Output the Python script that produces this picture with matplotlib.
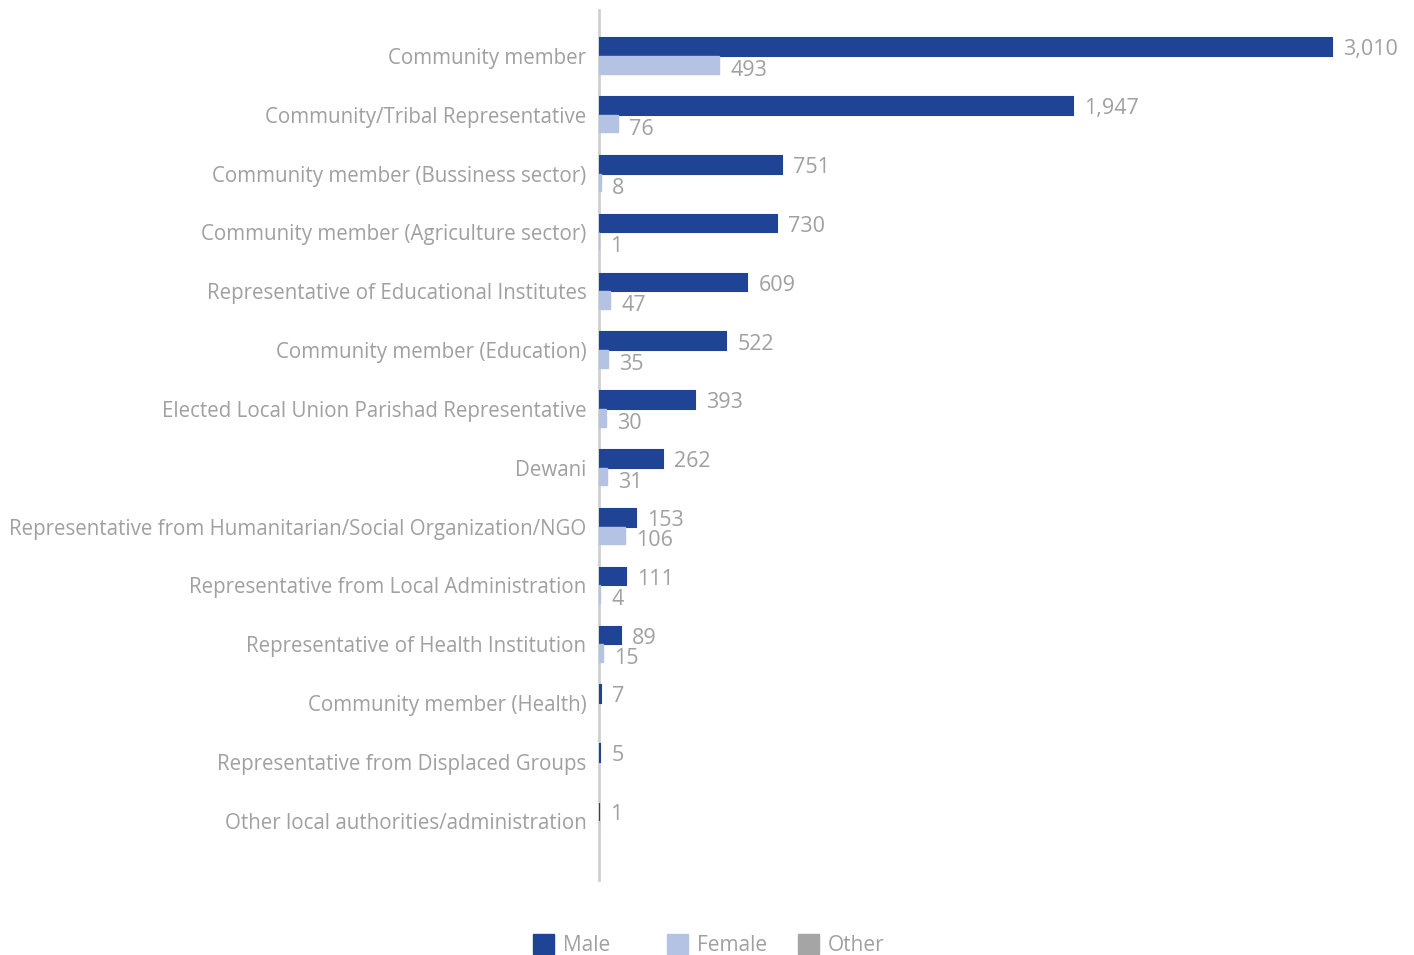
import matplotlib
matplotlib.use("Agg")
import matplotlib.pyplot as plt
from matplotlib.patches import Rectangle

categories = [
    "Community member",
    "Community/Tribal Representative",
    "Community member (Bussiness sector)",
    "Community member (Agriculture sector)",
    "Representative of Educational Institutes",
    "Community member (Education)",
    "Elected Local Union Parishad Representative",
    "Dewani",
    "Representative from Humanitarian/Social Organization/NGO",
    "Representative from Local Administration",
    "Representative of Health Institution",
    "Community member (Health)",
    "Representative from Displaced Groups",
    "Other local authorities/administration",
]
male = [3010, 1947, 751, 730, 609, 522, 393, 262, 153, 111, 89, 7, 5, 1]
female = [493, 76, 8, 1, 47, 35, 30, 31, 106, 4, 15, 0, 0, 0]
other = [0] * len(categories)
series = ["Male", "Female", "Other"]

male_color = "#1f4496"
female_color = "#b4c3e4"
other_color = "#a5a5a5"
text_color = "#a0a0a0"

plt.rcParams["font.family"] = ["Open Sans", "DejaVu Sans"]

W, H = 1414, 955
fig = plt.figure(figsize=(W / 100, H / 100), dpi=100)
ax = fig.add_axes([599 / W, 1 - 880 / H, 801 / W, 870 / H])

y = list(range(len(categories)))
h = 0.30
# thin edges keep the tiniest bars visible
ax.barh([v - h / 2 for v in y], male, height=h, color=male_color,
        edgecolor=male_color, linewidth=1.5, zorder=3)
ax.barh([v + h / 2 for v in y], female, height=h, color=female_color,
        edgecolor=female_color, linewidth=[1.0 if f else 0 for f in female], zorder=3)
ax.barh([v + h * 1.5 for v in y], other, height=h, color=other_color, linewidth=0, zorder=3)

# value labels next to the bars (zero values are left unlabeled)
for i, (m, f) in enumerate(zip(male, female)):
    if m:
        ax.annotate(f"{m:,}", (m, i - h / 2), xytext=(8, -2), textcoords="offset points",
                    va="center", ha="left", fontsize=15.5, color=text_color)
    if f:
        ax.annotate(f"{f:,}", (f, i + h / 2), xytext=(8, -4), textcoords="offset points",
                    va="center", ha="left", fontsize=15.5, color=text_color)

ax.set_xlim(0, 3289)
ax.set_ylim(14.01, -0.782)
ax.set_yticks(y)
ax.set_yticklabels(categories, fontsize=14.8, color=text_color)
ax.tick_params(axis="y", length=0, pad=9)
ax.set_xticks([])
for side in ["top", "right", "bottom"]:
    ax.spines[side].set_visible(False)
ax.spines["left"].set_color("#cfcfcf")
ax.spines["left"].set_linewidth(2)
ax.spines["left"].set_zorder(1)

# legend entries laid out in fixed slots along the bottom
colors = [male_color, female_color, other_color]
slots = [533, 667, 798]
for name, c, x0 in zip(series, colors, slots):
    fig.add_artist(Rectangle((x0 / W, 1 - 954 / H), 21 / W, 20 / H,
                             transform=fig.transFigure, color=c))
    fig.text((x0 + 30) / W, 1 - 945 / H, name, fontsize=15, color=text_color,
             va="center", ha="left")

fig.savefig("out.png", dpi=100)
